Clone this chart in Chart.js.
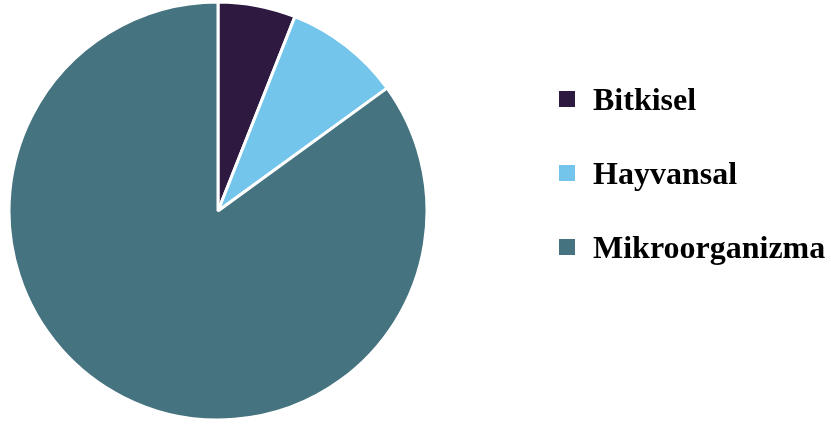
<!DOCTYPE html>
<html lang="tr">
<head>
<meta charset="utf-8">
<title>Kaynak dağılımı</title>
<script src="https://cdn.jsdelivr.net/npm/chart.js@4/dist/chart.umd.min.js"></script>
<style>
  html, body { margin: 0; padding: 0; background: #fff; }
  .wrap { position: relative; width: 831px; height: 425px; overflow: hidden; }
  #pie { position: absolute; left: 0; top: 0; }
  .legend {
    position: absolute; left: 559px; top: 62px;
    font-family: 'Liberation Serif', 'Times New Roman', serif;
    font-weight: bold; font-size: 32px; color: #000;
  }
  .legend .row { display: flex; align-items: center; height: 74px; }
  .legend .box { width: 16px; height: 16px; margin-right: 18px; flex: none; }
  .legend .txt { line-height: 1; white-space: nowrap; }
</style>
</head>
<body>
<div class="wrap">
  <canvas id="pie" width="831" height="425"></canvas>
  <div class="legend" id="legend"></div>
</div>
<script>
  // ── DATA ──────────────────────────────────────────────
  const LABELS = ['Bitkisel', 'Hayvansal', 'Mikroorganizma'];
  const VALUES = [6, 9, 85];
  const COLORS = ['#2e1a40', '#73c5ec', '#45737f'];

  // ── PIE ───────────────────────────────────────────────
  new Chart(document.getElementById('pie'), {
    type: 'pie',
    data: {
      labels: LABELS,
      datasets: [{
        data: VALUES,
        backgroundColor: COLORS,
        borderColor: '#ffffff',
        borderWidth: 3,
        hoverOffset: 0
      }]
    },
    options: {
      responsive: false,
      animation: false,
      radius: 209,
      layout: { padding: { left: 10, right: 405, top: 2, bottom: 5 } },
      plugins: {
        legend: { display: false },
        tooltip: { enabled: false }
      }
    }
  });

  // ── LEGEND ────────────────────────────────────────────
  const legend = document.getElementById('legend');
  LABELS.forEach((label, i) => {
    const row = document.createElement('div');
    row.className = 'row';
    row.innerHTML = `<span class="box" style="background:${COLORS[i]}"></span><span class="txt">${label}</span>`;
    legend.appendChild(row);
  });
</script>
</body>
</html>
